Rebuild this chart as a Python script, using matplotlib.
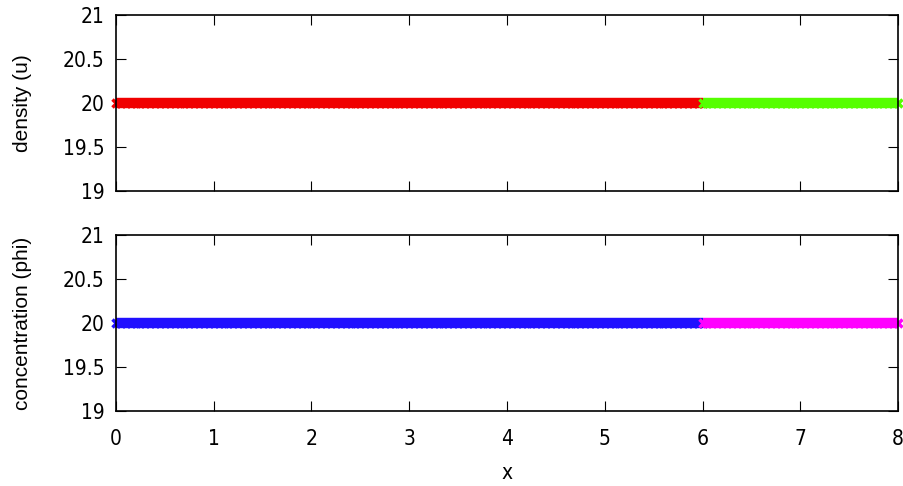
import numpy as np
import matplotlib
matplotlib.use("Agg")
import matplotlib.pyplot as plt

plt.rcParams['font.family'] = ['DejaVu Sans']
plt.rcParams['font.stretch'] = 'condensed'
plt.rcParams['font.size'] = 15

# grid nodes of the two sub-domains
x_left = np.arange(0, 6.0001, 0.05)
x_right = np.arange(6, 8.0001, 0.05)

# density u and concentration phi (flat at 20)
u_left = np.full(len(x_left), 20.0)
u_right = np.full(len(x_right), 20.0)
phi_left = np.full(len(x_left), 20.0)
phi_right = np.full(len(x_right), 20.0)

yticks = [19, 19.5, 20, 20.5, 21]
yticklabels = ["19", "19.5", "20", "20.5", "21"]
xticks = [0, 1, 2, 3, 4, 5, 6, 7, 8]

fig = plt.figure(figsize=(9.04, 4.86), dpi=100)
ax1 = fig.add_axes([0.1283, 0.607, 0.8651, 0.3621])
ax2 = fig.add_axes([0.1283, 0.1543, 0.8651, 0.3622])

def style(ax):
    ax.set_xlim(0, 8)
    ax.set_ylim(19, 21)
    ax.set_xticks(xticks)
    ax.set_yticks(yticks)
    ax.set_yticklabels(yticklabels)
    ax.tick_params(direction='in', length=7, width=0.8, top=True, right=True, pad=8)
    ax.tick_params(axis='x', pad=13)
    for s in ax.spines.values():
        s.set_linewidth(1.2)

lab = dict(family=['Liberation Sans', 'DejaVu Sans'], stretch='normal', fontsize=15)

ax1.plot(x_left, u_left, color='#f00000', lw=7.5, marker='x', ms=6, mew=2.5, solid_capstyle='butt', clip_on=False)
ax1.plot(x_right, u_right, color='#55ff00', lw=7.5, marker='x', ms=6, mew=2.5, solid_capstyle='butt', clip_on=False)
style(ax1)
ax1.set_xticklabels([])
ax1.set_ylabel("density (u)", **lab)
ax1.yaxis.set_label_coords(-0.108, 0.5)

ax2.plot(x_left, phi_left, color='#2010ff', lw=7.5, marker='x', ms=6, mew=2.5, solid_capstyle='butt', clip_on=False)
ax2.plot(x_right, phi_right, color='#ff00ff', lw=7.5, marker='x', ms=6, mew=2.5, solid_capstyle='butt', clip_on=False)
style(ax2)
ax2.set_ylabel("concentration (phi)", **lab)
ax2.yaxis.set_label_coords(-0.108, 0.5)
ax2.set_xlabel("x", labelpad=10)

fig.savefig("out.png", dpi=100)
